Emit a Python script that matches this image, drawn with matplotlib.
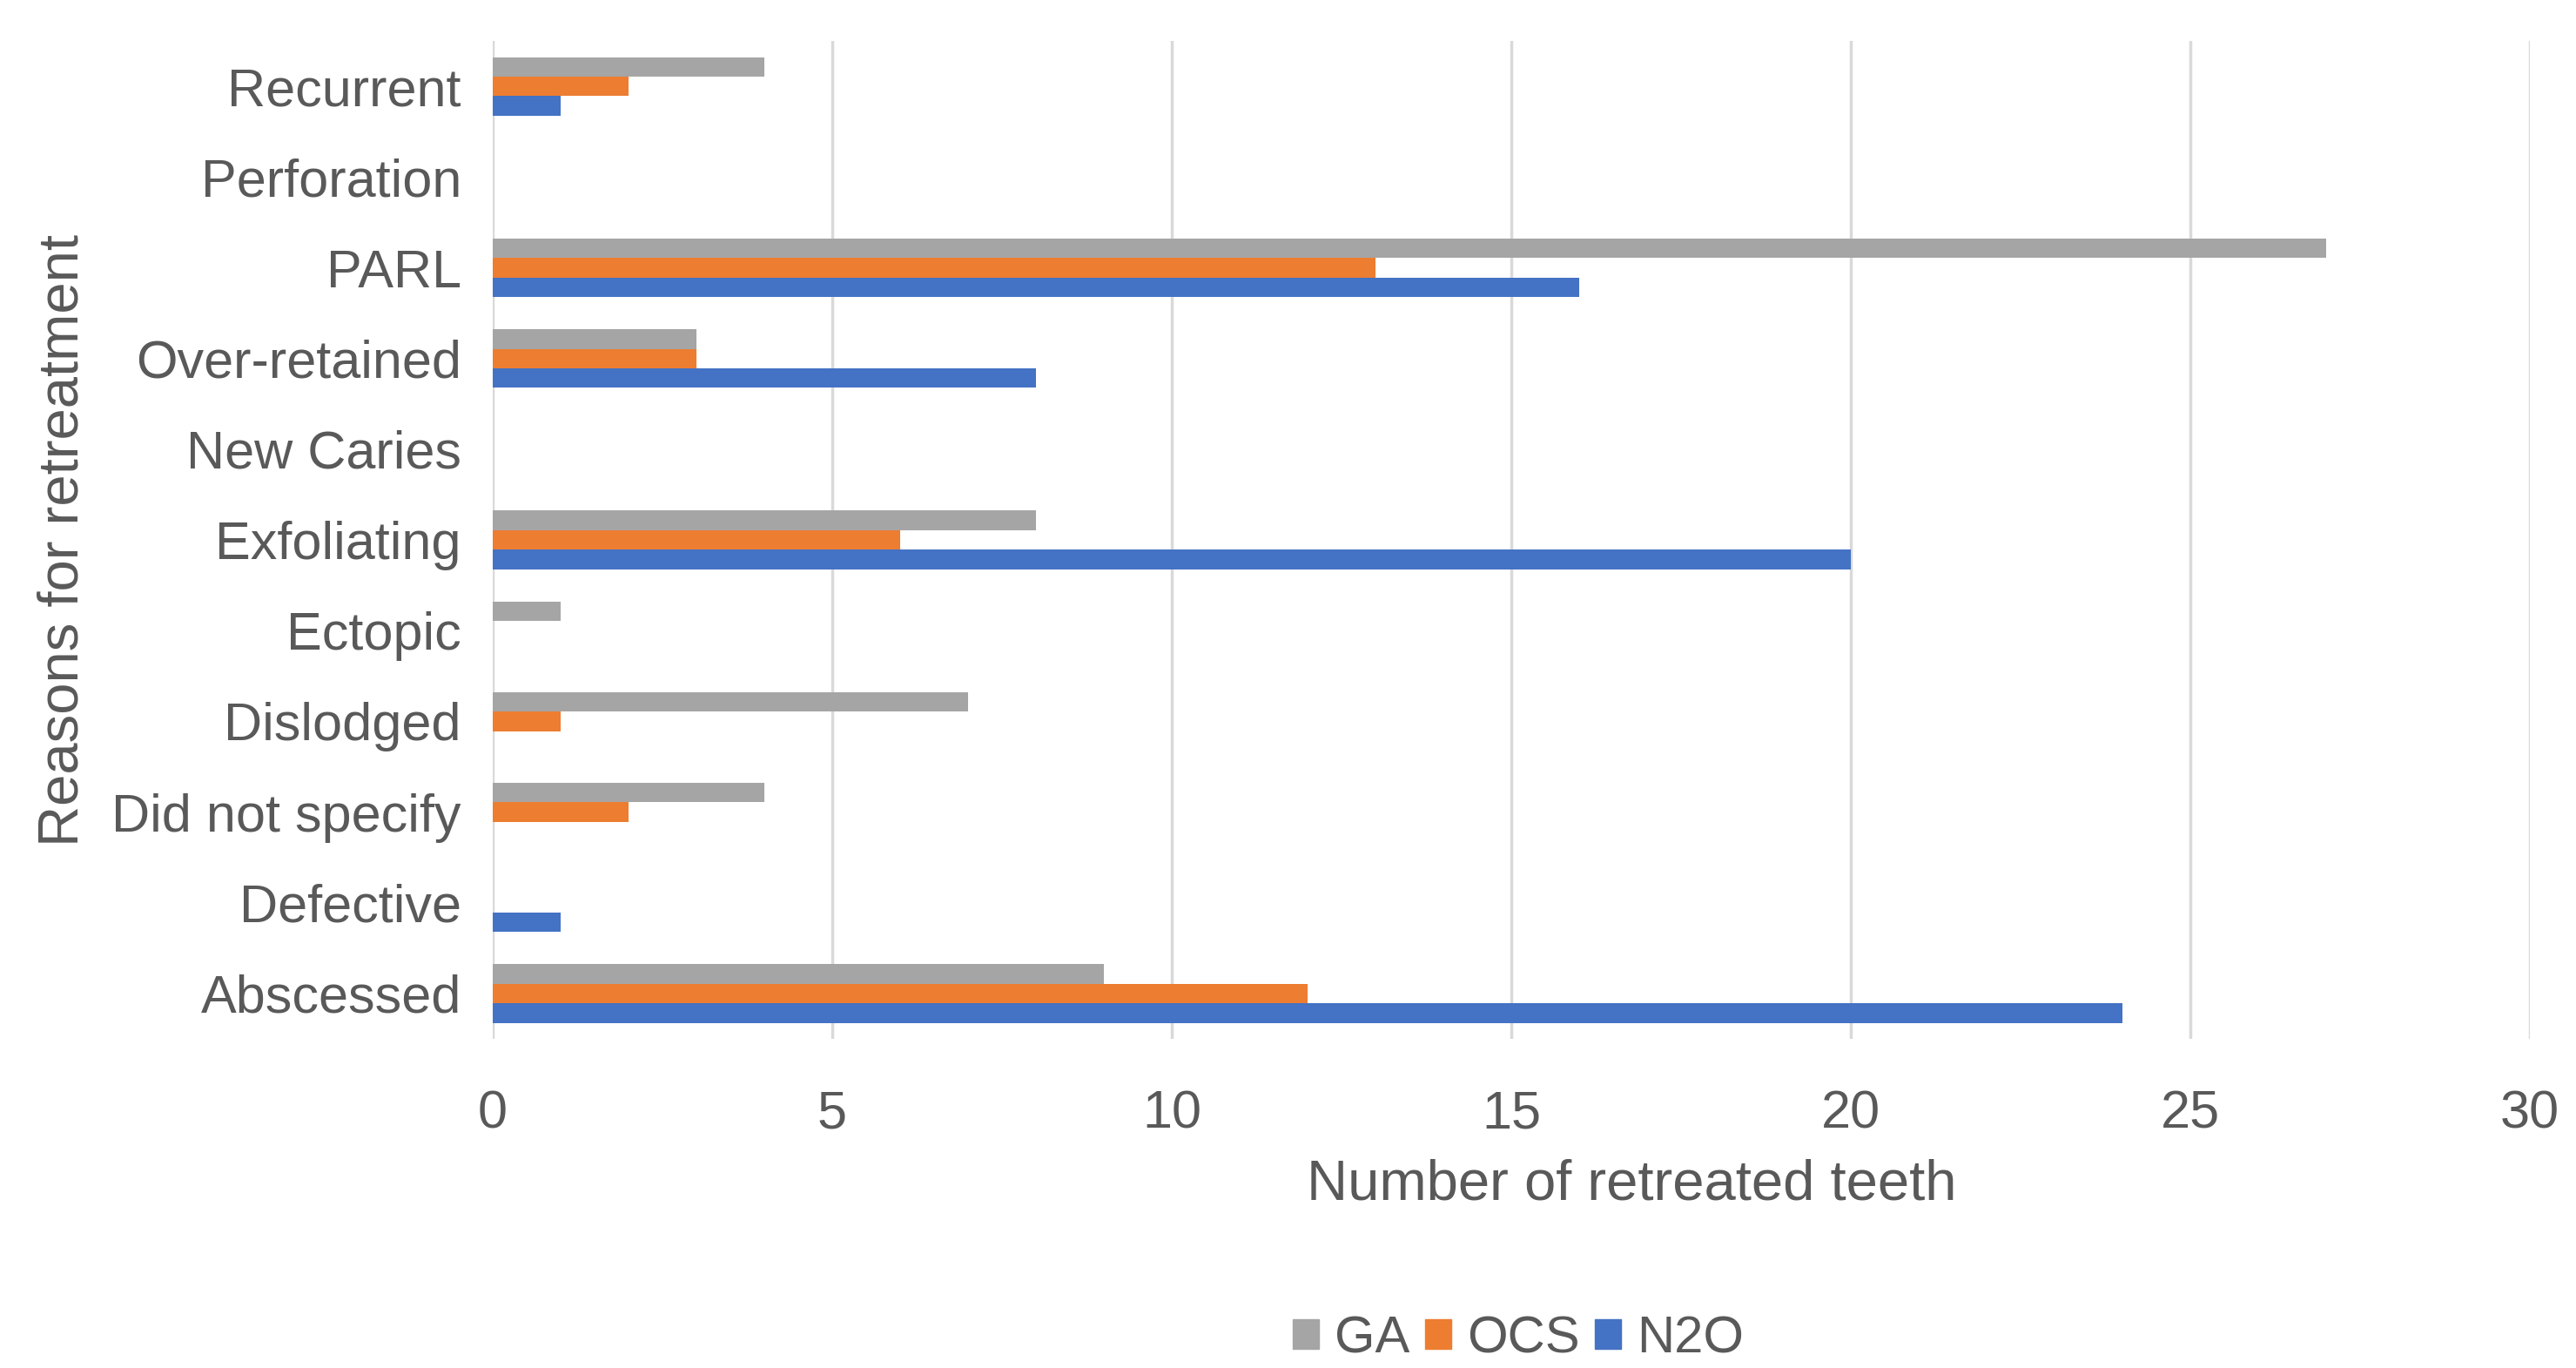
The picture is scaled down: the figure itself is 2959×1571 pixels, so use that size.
import numpy as np
import matplotlib
matplotlib.use("Agg")
import matplotlib.pyplot as plt
from matplotlib.patches import Patch

plt.rcParams['font.family'] = ['Liberation Sans Narrow', 'Liberation Sans', 'DejaVu Sans']

# categories bottom to top, as drawn
reasons = ["Abscessed", "Defective", "Did not specify", "Dislodged", "Ectopic",
           "Exfoliating", "New Caries", "Over-retained", "PARL", "Perforation",
           "Recurrent"]
ga  = [9, 0, 4, 7, 1, 8, 0, 3, 27, 0, 4]
ocs = [12, 0, 2, 1, 0, 6, 0, 3, 13, 0, 2]
n2o = [24, 1, 0, 0, 0, 20, 0, 8, 16, 0, 1]

series = ["GA", "OCS", "N2O"]
colors = ["#A5A5A5", "#ED7D31", "#4472C4"]
text_col = "#595959"

fig = plt.figure(figsize=(29.59, 15.71), dpi=100)
ax = fig.add_axes([0.1913, 0.2406, 0.9821 - 0.1913, 0.970 - 0.2406])

y = np.arange(len(reasons))
h = 0.215
# GA on top, then OCS, N2O at the bottom of each group
for vals, off, c in zip([ga, ocs, n2o], [h, 0, -h], colors):
    ax.barh(y + off, vals, height=h, color=c, zorder=3)

ax.set_xlim(0, 30)
ax.set_ylim(-0.5, len(reasons) - 0.5)
ax.set_xticks(np.arange(0, 31, 5))
ax.set_yticks(y)
ax.set_yticklabels(reasons)
ax.xaxis.grid(True, color="#D9D9D9", linewidth=2.5, zorder=0)
ax.yaxis.grid(False)
for s in ax.spines.values():
    s.set_visible(False)
ax.tick_params(axis="both", length=0, labelsize=44, colors=text_col)
ax.tick_params(axis="x", pad=42)
ax.tick_params(axis="y", pad=26)

ax.set_xlabel("Number of retreated teeth", fontsize=47, color=text_col)
ax.xaxis.set_label_coords(0.559, -0.12)
ax.set_ylabel("Reasons for retreatment", fontsize=47, color=text_col)
ax.yaxis.set_label_coords(-0.198, 0.5)

handles = [Patch(color=c) for c in colors]
fig.legend(handles, series, loc="center", bbox_to_anchor=(1744 / 2959, 1 - 1538 / 1571),
           ncol=3, frameon=False, fontsize=43, labelcolor=text_col,
           handlelength=0.5, handleheight=0.5, handletextpad=0.3, columnspacing=0.3)

fig.savefig("out.png", dpi=100)
